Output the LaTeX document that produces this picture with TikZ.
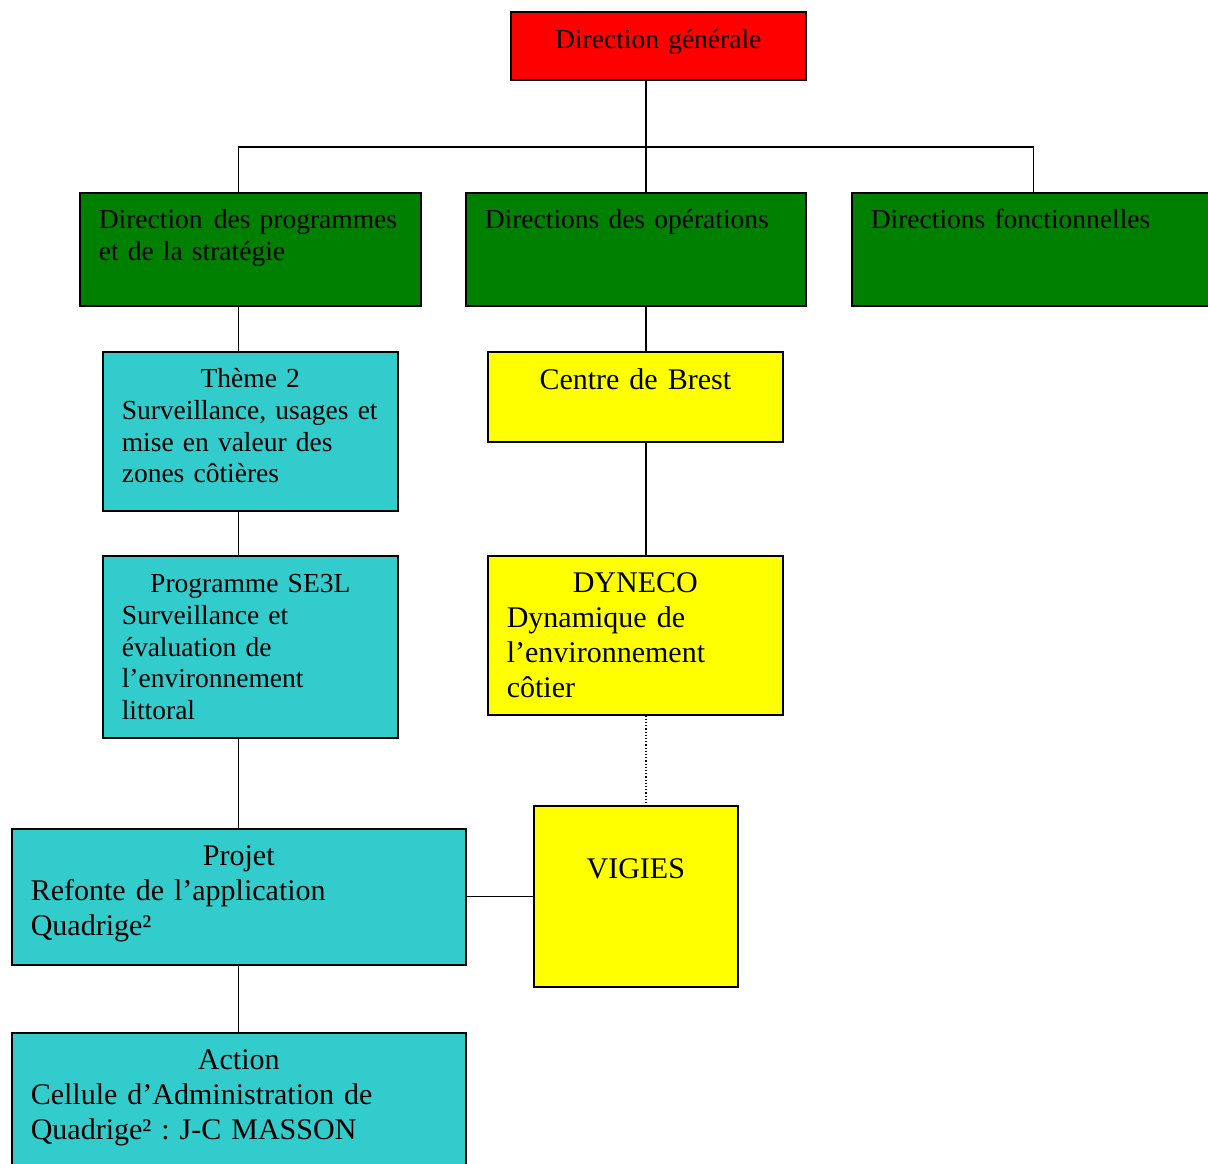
\documentclass[tikz,border=0pt]{standalone}
\usepackage{fontspec}
\setmainfont{Liberation Serif}
\usetikzlibrary{positioning}

\definecolor{dirgreen}{HTML}{008000}
\definecolor{prgcyan}{HTML}{33CCCC}
\definecolor{dirred}{RGB}{255,0,0}
\definecolor{siteyellow}{RGB}{255,255,0}
\frenchspacing

\begin{document}
\begin{tikzpicture}[
    x=1pt, y=-1pt,
    box/.style={rectangle, draw, line width=1.6pt, anchor=north west,
        inner xsep=19pt, inner ysep=0pt, align=left},
    small/.style={font=\fontsize{27.5}{31.6}\selectfont},
    large/.style={font=\fontsize{30}{35}\selectfont},
    general/.style={box, small, fill=dirred, align=center},
    direction/.style={box, small, fill=dirgreen},
    programme/.style={box, fill=prgcyan},
    centre/.style={box, large, fill=siteyellow},
    link/.style={draw, line width=1.3pt},
    dotlink/.style={draw, line width=1.2pt, dotted}
]
\useasboundingbox (0,0) rectangle (1208,1164);

% direction and directions
\node (general) [general, text width=257pt, text height=37pt, text depth=31pt]
  at (510,11) {Direction générale};
\node (dprog) [direction, text width=303pt, text height=36pt, text depth=77pt]
  at (79,192) {\mbox{Direction\kern2pt\ des programmes}\\ et de la stratégie};
\node (dops) [direction, text width=302pt, text height=36pt, text depth=77pt]
  at (465,192) {Directions des opérations};
\node (dfonc) [direction, text width=325pt, text height=36pt, text depth=77pt]
  at (851,192) {Directions fonctionnelles};

% left column
\node (theme) [programme, small, text width=257pt, text height=36pt, text depth=123pt]
  at (102,351) {\makebox[\linewidth]{Thème 2}\\ Surveillance, usages et\\
  mise en valeur des\\ zones côtières};
\node (se3l) [programme, small, text width=257pt, text height=37pt, text depth=145pt]
  at (102,555) {\makebox[\linewidth]{Programme SE3L}\\ Surveillance et\\
  évaluation de\\ l’environnement\\ littoral};
\node (projet) [programme, large, text width=416pt, text height=37pt, text depth=99pt]
  at (11,828) {\makebox[\linewidth]{Projet}\\ Refonte de l’application\\ Quadrige²};
\node (action) [programme, large, text width=416pt, text height=37pt, text depth=140pt]
  at (11,1032) {\makebox[\linewidth]{Action}\\ Cellule d’Administration de\\
  Quadrige² : J-C MASSON};

% right column
\node (brest) [centre, align=center, text width=257pt, text height=38pt, text depth=52pt]
  at (487,351) {Centre de Brest};
\node (dyneco) [centre, text width=257pt, text height=37pt, text depth=122pt]
  at (487,555) {\makebox[\linewidth]{DYNECO}\\ Dynamique de\\ l’environnement\\ côtier};
\node (vigies) [centre, align=center, text width=166pt, text height=73pt, text depth=108pt]
  at (533,805) {VIGIES};

% connectors
\coordinate (trunk) at (646,147);
\draw[link] (trunk |- general.south) -- (trunk);
\draw[link] (projet.north |- dprog.north) |- (trunk) -| (dfonc.north);
\draw[link] (trunk) -- (trunk |- dops.north);
\draw[link] (projet.north |- dprog.south) -- (projet.north |- theme.north);
\draw[link] (projet.north |- theme.south) -- (projet.north |- se3l.north);
\draw[link] (projet.north |- se3l.south) -- (projet.north);
\draw[link] (projet.south) -- (action.north);
\draw[link] (trunk |- dops.south) -- (trunk |- brest.north);
\draw[link] (trunk |- brest.south) -- (trunk |- dyneco.north);
\draw[dotlink] (trunk |- dyneco.south) -- (trunk |- vigies.north);
\draw[link] (projet.east) -- (vigies.west |- projet.east);
\end{tikzpicture}
\end{document}
